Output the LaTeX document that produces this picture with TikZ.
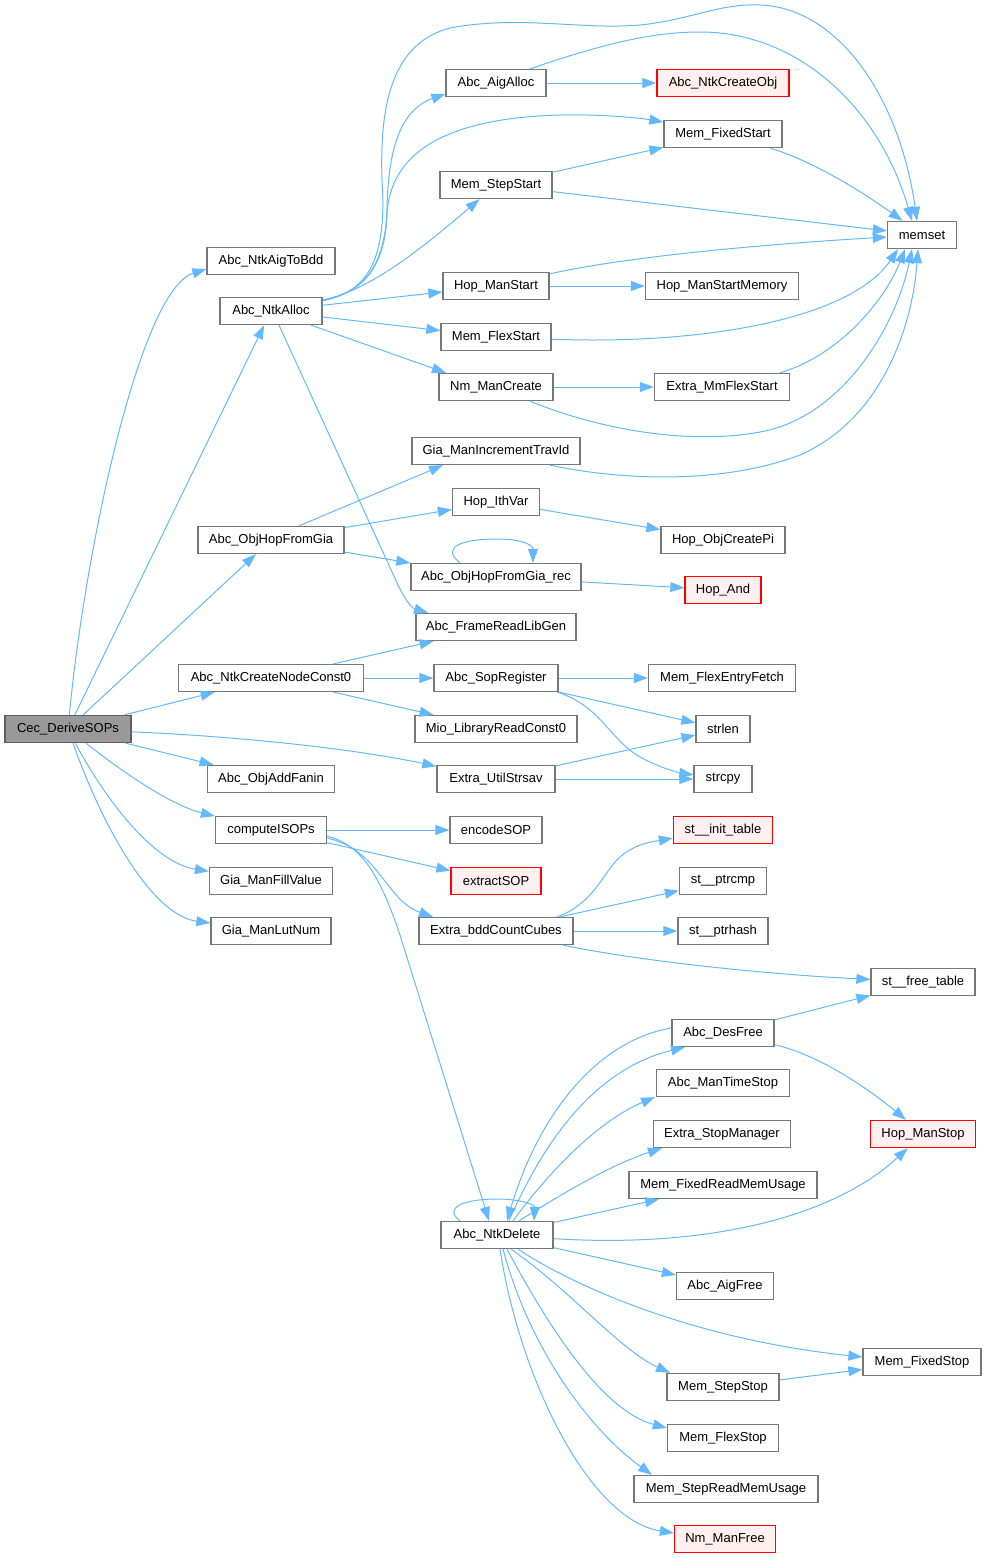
\documentclass[tikz,border=0pt]{standalone}
\usepackage{fontspec}
\setmainfont{Liberation Sans}
\usetikzlibrary{arrows.meta}
\definecolor{edgeblue}{HTML}{63B8FF}
\definecolor{nodegray}{HTML}{777777}
\definecolor{rootfill}{HTML}{999999}
\definecolor{redfill}{HTML}{FFF0F0}
\tikzset{
  box/.style={draw=nodegray, fill=white, line width=1.3pt, minimum height=27pt, inner sep=0pt,
    font=\fontsize{13}{15}\selectfont},
  rootbox/.style={box, fill=rootfill, draw=nodegray!80!black},
  redbox/.style={box, draw=red, fill=redfill},
  link/.style={draw=edgeblue, line width=1pt, -{Triangle[length=14pt,width=10pt]}}
}
\begin{document}
\begin{tikzpicture}[x=1pt,y=-1pt]
\useasboundingbox (0,0) rectangle (986,1558);
% ---- nodes
\node[rootbox, minimum width=126pt] (cec) at (68,729) {Cec\_DeriveSOPs};
\node[box, minimum width=128pt] (aigtobdd) at (271,261) {Abc\_NtkAigToBdd};
\node[box, minimum width=102pt] (ntkalloc) at (271,311) {Abc\_NtkAlloc};
\node[box, minimum width=146pt] (hopfromgia) at (271,540) {Abc\_ObjHopFromGia};
\node[box, minimum width=185pt] (nodeconst0) at (271,678) {Abc\_NtkCreateNodeConst0};
\node[box, minimum width=127pt] (addfanin) at (271,779) {Abc\_ObjAddFanin};
\node[box, minimum width=111pt] (computeisops) at (271,830) {computeISOPs};
\node[box, minimum width=123pt] (fillvalue) at (271,881) {Gia\_ManFillValue};
\node[box, minimum width=120pt] (lutnum) at (271,931) {Gia\_ManLutNum};
\node[box, minimum width=100pt] (aigalloc) at (496,83) {Abc\_AigAlloc};
\node[box, minimum width=112pt] (stepstart) at (496,185) {Mem\_StepStart};
\node[box, minimum width=106pt] (hopmanstart) at (496,286) {Hop\_ManStart};
\node[box, minimum width=110pt] (flexstart) at (496,337) {Mem\_FlexStart};
\node[box, minimum width=114pt] (nmmancreate) at (496,387) {Nm\_ManCreate};
\node[box, minimum width=168pt] (travid) at (496,451) {Gia\_ManIncrementTravId};
\node[box, minimum width=87pt] (ithvar) at (496,502) {Hop\_IthVar};
\node[box, minimum width=170pt] (hoprec) at (496,577) {Abc\_ObjHopFromGia\_rec};
\node[box, minimum width=160pt] (framelibgen) at (496,627) {Abc\_FrameReadLibGen};
\node[box, minimum width=124pt] (sopregister) at (496,678) {Abc\_SopRegister};
\node[box, minimum width=162pt] (mioconst0) at (496,729) {Mio\_LibraryReadConst0};
\node[box, minimum width=118pt] (strsav) at (496,779) {Extra\_UtilStrsav};
\node[box, minimum width=92pt] (encodesop) at (496,830) {encodeSOP};
\node[redbox, minimum width=90pt] (extractsop) at (496,881) {extractSOP};
\node[box, minimum width=154pt] (bddcubes) at (496,931) {Extra\_bddCountCubes};
\node[box, minimum width=112pt] (ntkdelete) at (497,1235) {Abc\_NtkDelete};
\node[redbox, minimum width=132pt] (createobj) at (723,83) {Abc\_NtkCreateObj};
\node[box, minimum width=118pt] (fixedstart) at (723,134) {Mem\_FixedStart};
\node[box, minimum width=153pt] (hopstartmem) at (722,286) {Hop\_ManStartMemory};
\node[box, minimum width=135pt] (mmflexstart) at (722,387) {Extra\_MmFlexStart};
\node[box, minimum width=124pt] (createpi) at (723,540) {Hop\_ObjCreatePi};
\node[redbox, minimum width=76pt] (hopand) at (723,590) {Hop\_And};
\node[box, minimum width=147pt] (flexentry) at (722,678) {Mem\_FlexEntryFetch};
\node[box, minimum width=54pt] (strlen) at (723,729) {strlen};
\node[box, minimum width=58pt] (strcpy) at (723,779) {strcpy};
\node[redbox, minimum width=99pt] (initable) at (723,830) {st\_\_init\_table};
\node[box, minimum width=87pt] (ptrcmp) at (723,881) {st\_\_ptrcmp};
\node[box, minimum width=90pt] (ptrhash) at (723,931) {st\_\_ptrhash};
\node[box, minimum width=102pt] (desfree) at (723,1033) {Abc\_DesFree};
\node[box, minimum width=133pt] (timestop) at (723,1083) {Abc\_ManTimeStop};
\node[box, minimum width=137pt] (stopmanager) at (722,1134) {Extra\_StopManager};
\node[box, minimum width=188pt] (fixedreadmem) at (723,1185) {Mem\_FixedReadMemUsage};
\node[box, minimum width=97pt] (aigfree) at (725,1286) {Abc\_AigFree};
\node[box, minimum width=112pt] (stepstop) at (723,1387) {Mem\_StepStop};
\node[box, minimum width=111pt] (flexstop) at (723,1438) {Mem\_FlexStop};
\node[box, minimum width=184pt] (stepreadmem) at (726,1489) {Mem\_StepReadMemUsage};
\node[redbox, minimum width=101pt] (nmmanfree) at (725,1539) {Nm\_ManFree};
\node[box, minimum width=69pt] (memset) at (922,235) {memset};
\node[box, minimum width=104pt] (freetable) at (923,982) {st\_\_free\_table};
\node[redbox, minimum width=105pt] (hopmanstop) at (923,1134) {Hop\_ManStop};
\node[box, minimum width=118pt] (fixedstop) at (922,1362) {Mem\_FixedStop};
% ---- edges from Cec_DeriveSOPs
\draw[link] (cec) .. controls (85,550) and (140,290) .. ([yshift=-8pt]aigtobdd.west);
\draw[link] (cec) -- (ntkalloc);
\draw[link] (cec) -- (hopfromgia);
\draw[link] (cec) -- (nodeconst0);
\draw[link] (cec) .. controls (250,737) and (360,750) .. (strsav);
\draw[link] (cec) -- (addfanin);
\draw[link] (cec) .. controls (120,770) and (170,805) .. (computeisops);
\draw[link] (cec) .. controls (100,790) and (150,862) .. (fillvalue);
\draw[link] (cec) .. controls (100,820) and (150,915) .. (lutnum);
% ---- Abc_NtkAlloc
\draw[link] (ntkalloc) .. controls (365,292) and (385,265) .. (387,210) .. controls (388,140) and (405,108) .. ([yshift=-11pt]aigalloc.west);
\draw[link] (ntkalloc) .. controls (365,292) and (385,265) .. (387,215) .. controls (390,150) and (450,118) .. (560,115) .. controls (600,114) and (640,118) .. ([yshift=12pt]fixedstart.west);
\draw[link] (ntkalloc) .. controls (365,292) and (383,265) .. (383,200) .. controls (378,120) and (385,45) .. (450,28) .. controls (520,15) and (580,30) .. (640,25) .. controls (690,20) and (720,3) .. (760,5) .. controls (840,8) and (900,100) .. ([xshift=-5pt]memset.north);
\draw[link] (ntkalloc) .. controls (370,290) and (420,250) .. (stepstart);
\draw[link] (ntkalloc) -- (hopmanstart);
\draw[link] (ntkalloc) -- (flexstart);
\draw[link] (ntkalloc) -- ([xshift=-50pt]nmmancreate.north);
\draw[link] ([xshift=8pt]ntkalloc.south) -- (398,585) .. controls (405,600) and (412,608) .. ([xshift=-68pt]framelibgen.north);
% ---- Abc_AigAlloc
\draw[link] (aigalloc) -- (createobj);
\draw[link] ([xshift=34pt]aigalloc.north) .. controls (600,45) and (650,32) .. (700,32) .. controls (800,32) and (880,110) .. ([xshift=-10pt]memset.north);
% ---- Mem_StepStart, Mem_FixedStart
\draw[link] (stepstart) -- (fixedstart);
\draw[link] (stepstart) -- (memset);
\draw[link] (fixedstart) .. controls (810,160) and (860,190) .. (memset);
% ---- Hop_ManStart
\draw[link] (hopmanstart) -- (hopstartmem);
\draw[link] (hopmanstart) .. controls (620,258) and (750,245) .. (memset);
% ---- Mem_FlexStart
\draw[link] (flexstart) .. controls (700,345) and (850,320) .. ([xshift=-24pt]memset.south);
% ---- Nm_ManCreate
\draw[link] (nmmancreate) -- (mmflexstart);
\draw[link] ([xshift=34pt]nmmancreate.south) .. controls (600,430) and (690,445) .. (760,432) .. controls (840,418) and (895,330) .. ([xshift=-10pt]memset.south);
\draw[link] ([xshift=58pt]mmflexstart.north) .. controls (840,355) and (885,300) .. ([xshift=-17pt]memset.south);
% ---- Gia_ManIncrementTravId
\draw[link] ([xshift=54pt]travid.south) .. controls (620,480) and (720,485) .. (800,455) .. controls (880,420) and (912,330) .. ([xshift=-4pt]memset.south);
% ---- Abc_ObjHopFromGia
\draw[link] ([xshift=28pt]hopfromgia.north) -- ([xshift=-53pt]travid.south);
\draw[link] (hopfromgia) -- (ithvar);
\draw[link] (hopfromgia) -- (hoprec);
\draw[link] ([xshift=-36pt]hoprec.north) .. controls (440,547) and (462,539) .. (497,539) .. controls (522,539) and (533,545) .. ([xshift=37pt]hoprec.north);
\draw[link] (hoprec) -- (hopand);
\draw[link] (ithvar) -- (createpi);
% ---- Abc_NtkCreateNodeConst0
\draw[link] (nodeconst0) -- (framelibgen);
\draw[link] (nodeconst0) -- (sopregister);
\draw[link] (nodeconst0) -- (mioconst0);
% ---- Abc_SopRegister
\draw[link] (sopregister) -- (flexentry);
\draw[link] (sopregister) -- (strlen);
\draw[link] ([xshift=61pt]sopregister.south) .. controls (600,705) and (610,740) .. (640,757) .. controls (660,768) and (680,773) .. (strcpy);
% ---- Extra_UtilStrsav
\draw[link] (strsav) -- (strlen);
\draw[link] (strsav) -- (strcpy);
% ---- computeISOPs
\draw[link] (computeisops) -- (encodesop);
\draw[link] (computeisops) -- (extractsop);
\draw[link] ([yshift=-8pt]computeisops.east) .. controls (380,850) and (385,900) .. ([xshift=-63pt]bddcubes.north);
\draw[link] ([yshift=-6pt]computeisops.east) .. controls (360,845) and (378,870) .. (400,935) -- ([xshift=-8pt]ntkdelete.north);
% ---- Extra_bddCountCubes
\draw[link] ([xshift=61pt]bddcubes.north) .. controls (590,905) and (600,880) .. (615,862) .. controls (630,845) and (650,842) .. (initable);
\draw[link] (bddcubes) -- (ptrcmp);
\draw[link] (bddcubes) -- (ptrhash);
\draw[link] ([xshift=67pt]bddcubes.south) .. controls (650,963) and (780,975) .. (freetable);
% ---- Abc_DesFree
\draw[link] (desfree) -- (freetable);
\draw[link] (desfree) .. controls (820,1055) and (870,1090) .. (hopmanstop);
\draw[link] ([yshift=5pt]desfree.west) .. controls (600,1040) and (540,1110) .. ([xshift=10pt]ntkdelete.north);
% ---- Abc_NtkDelete
\draw[link] ([xshift=-37pt]ntkdelete.north) .. controls (443,1208) and (463,1199) .. (497,1199) .. controls (522,1199) and (535,1205) .. ([xshift=37pt]ntkdelete.north);
\draw[link] ([xshift=12pt]ntkdelete.north) .. controls (540,1150) and (590,1070) .. ([xshift=-38pt]desfree.south);
\draw[link] ([xshift=16pt]ntkdelete.north) .. controls (550,1170) and (600,1120) .. ([xshift=-68pt]timestop.south);
\draw[link] ([xshift=22pt]ntkdelete.north) .. controls (560,1195) and (610,1165) .. ([xshift=-60pt]stopmanager.south);
\draw[link] (ntkdelete) -- (fixedreadmem);
\draw[link] (ntkdelete) .. controls (700,1248) and (830,1220) .. (hopmanstop);
\draw[link] (ntkdelete) -- (aigfree);
\draw[link] ([xshift=21pt]ntkdelete.south) .. controls (580,1290) and (700,1340) .. ([yshift=5pt]fixedstop.west);
\draw[link] ([xshift=14pt]ntkdelete.south) .. controls (570,1290) and (620,1350) .. ([xshift=-53pt]stepstop.north);
\draw[link] ([xshift=10pt]ntkdelete.south) .. controls (545,1320) and (600,1410) .. ([yshift=10pt]flexstop.west);
\draw[link] ([xshift=6pt]ntkdelete.south) .. controls (530,1350) and (590,1430) .. ([xshift=-74pt]stepreadmem.north);
\draw[link] ([xshift=3pt]ntkdelete.south) .. controls (520,1380) and (590,1520) .. ([yshift=6pt]nmmanfree.west);
% ---- Mem_StepStop
\draw[link] (stepstop) -- (fixedstop);
\end{tikzpicture}
\end{document}
